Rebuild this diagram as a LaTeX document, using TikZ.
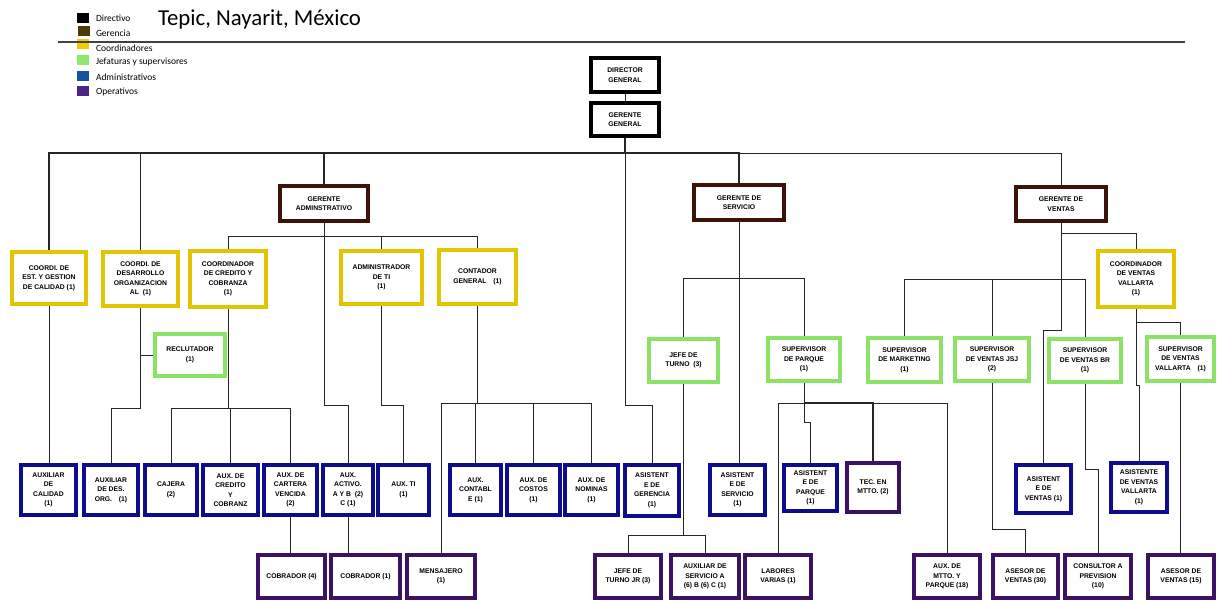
\documentclass[tikz,border=0pt]{standalone}
\usepackage{fontspec}
\setmainfont{Liberation Sans}
\newfontfamily\leyfont{Carlito}
\usetikzlibrary{backgrounds}

\definecolor{cdir}{HTML}{000000}
\definecolor{cger}{HTML}{3D1208}
\definecolor{ccoo}{HTML}{E3C400}
\definecolor{cjef}{HTML}{8CE264}
\definecolor{cadm}{HTML}{0C0C8C}
\definecolor{cope}{HTML}{3B1262}
\definecolor{lger}{HTML}{4F3A0A}
\definecolor{lcoo}{HTML}{F0CC00}
\definecolor{ljef}{HTML}{8DE870}
\definecolor{ladm}{HTML}{1552A3}
\definecolor{lope}{HTML}{4B2585}

\begin{document}
\begin{tikzpicture}[x=1pt, y=-1pt]
\tikzset{ inner sep=0pt, outer sep=0pt,
  caja/.style={fill=white, line width=4pt, align=center, font=\bfseries\fontsize{6.8}{9.5}\selectfont},
  dir/.style={caja, draw=cdir, line width=4.5pt},
  ger/.style={caja, draw=cger},
  coo/.style={caja, draw=ccoo},
  jef/.style={caja, draw=cjef},
  adm/.style={caja, draw=cadm},
  ope/.style={caja, draw=cope},
  ley/.style={anchor=west, font=\leyfont\fontsize{9.5}{11}\selectfont},
  clave/.style={minimum width=12, minimum height=10},
  linea/.style={line width=0.9pt, black!85},
  bus/.style={linea, line width=1.5pt},
}
\useasboundingbox (0,0) rectangle (1217,601);

%\draw [lightgray, dashed] (0,0) grid[step=50] (1217,601);

% leyenda
\node [clave, fill=cdir] (kDir) at (83,18) {};
\node [clave, fill=lger] (kGer) at (84,31.5) {};
\node [clave, fill=lcoo] (kCoo) at (83,44) {};
\node [clave, fill=ljef] (kJef) at (83,60) {};
\node [clave, fill=ladm] (kAdm) at (83,76.5) {};
\node [clave, fill=lope] (kOpe) at (83,91) {};
\node [ley] (tDir) at (96,18) {Directivo};
\node [ley] (tGer) at (96,33) {Gerencia};
\node [ley] (tCoo) at (96,48) {Coordinadores};
\node [ley] (tJef) at (96,62) {Jefaturas y supervisores};
\node [ley] (tAdm) at (96,77) {Administrativos};
\node [ley] (tOpe) at (96,92) {Operativos};

\node [anchor=base west, font=\leyfont\fontsize{22.8}{24}\selectfont] (titulo) at (158,26) {Tepic, Nayarit, México};
\draw [line width=1.2pt, black!75] (58,42) -- (1185,42);

% direccion y gerencias
\node [dir, minimum width=68, minimum height=34] (DG) at (625,75) {DIRECTOR\\GENERAL};
\node [dir, minimum width=68, minimum height=33] (GG) at (625,119.5) {GERENTE\\GENERAL};
\node [ger, minimum width=88, minimum height=35] (GA) at (324,203.5) {GERENTE\\ADMINSTRATIVO};
\node [ger, minimum width=90, minimum height=35] (GS) at (739,202.5) {GERENTE DE\\SERVICIO};
\node [ger, minimum width=90, minimum height=34] (GV) at (1061,204) {GERENTE DE\\VENTAS};

% coordinadores
\node [coo, minimum width=74, minimum height=52] (C1) at (49,278) {COORDI. DE\\EST. Y GESTION\\DE CALIDAD (1)};
\node [coo, minimum width=75, minimum height=54] (C2) at (140.5,279) {COORDI. DE\\DESARROLLO\\ORGANIZACION\\AL\ \ (1)};
\node [coo, minimum width=76, minimum height=56] (C3) at (228,279) {COORDINADOR\\DE CREDITO Y\\COBRANZA\\(1)};
\node [coo, minimum width=81, minimum height=53] (C4) at (381.5,277.5) {ADMINISTRADOR\\DE TI\\(1)};
\node [coo, minimum width=77, minimum height=54] (C5) at (477.5,277) {CONTADOR\\GENERAL\quad(1)};
\node [coo, minimum width=76, minimum height=56] (CV) at (1136,279) {COORDINADOR\\DE VENTAS\\VALLARTA\\(1)};

% jefaturas y supervisores
\node [jef, minimum width=70, minimum height=42] (REC) at (190,355) {RECLUTADOR\\(1)};
\node [jef, minimum width=69, minimum height=43] (JT) at (683.5,360.5) {JEFE DE\\TURNO\ \ (3)};
\node [jef, minimum width=72, minimum height=43] (SP) at (804,359.5) {SUPERVISOR\\DE PARQUE\\(1)};
\node [jef, minimum width=73, minimum height=44] (SM) at (904.5,360) {SUPERVISOR\\DE MARKETING\\(1)};
\node [jef, minimum width=74, minimum height=43] (SJ) at (992,359.5) {SUPERVISOR\\DE VENTAS JSJ\\(2)};
\node [jef, minimum width=72, minimum height=43] (SB) at (1085,360.5) {SUPERVISOR\\DE VENTAS BR\\(1)};
\node [jef, minimum width=67, minimum height=44] (SV) at (1180.5,359) {SUPERVISOR\\DE VENTAS\\VALLARTA\quad(1)};

% administrativos
\node [adm, minimum width=55, minimum height=50] (AC) at (48.5,490) {AUXILIAR\\DE\\CALIDAD\\(1)};
\node [adm, minimum width=54, minimum height=50] (AD) at (111,490) {AUXILIAR\\DE DES.\\ORG.\quad(1)};
\node [adm, minimum width=52, minimum height=50] (CJ) at (171,490) {CAJERA\\(2)};
\node [adm, minimum width=55, minimum height=50] (ACC) at (230.5,490) {AUX. DE\\CREDITO\\Y\\COBRANZ};
\node [adm, minimum width=53, minimum height=50] (ACV) at (290.5,490) {AUX. DE\\CARTERA\\VENCIDA\\(2)};
\node [adm, minimum width=50, minimum height=50] (AAC) at (348,490) {AUX.\\ACTIVO.\\A Y B\ \ (2)\\C (1)};
\node [adm, minimum width=51, minimum height=50] (ATI) at (403.5,490) {AUX. TI\\(1)};
\node [adm, minimum width=51, minimum height=50] (ACO) at (475.5,490) {AUX.\\CONTABL\\E (1)};
\node [adm, minimum width=53, minimum height=50] (ACS) at (533.5,490) {AUX. DE\\COSTOS\\(1)};
\node [adm, minimum width=53, minimum height=50] (ANO) at (591.5,490) {AUX. DE\\NOMINAS\\(1)};
\node [adm, minimum width=54, minimum height=51] (AGE) at (652,490.5) {ASISTENT\\E DE\\GERENCIA\\(1)};
\node [adm, minimum width=55, minimum height=50] (ASE) at (737.5,490) {ASISTENT\\E DE\\SERVICIO\\(1)};
\node [adm, minimum width=53, minimum height=46] (APA) at (810.5,488) {ASISTENT\\E DE\\PARQUE\\(1)};
\node [adm, minimum width=55, minimum height=48] (AVE) at (1043.5,489) {ASISTENT\\E DE\\VENTAS (1)};
\node [adm, minimum width=56, minimum height=49] (AVV) at (1139,487.5) {ASISTENTE\\DE VENTAS\\VALLARTA\\(1)};

% operativos
\node [ope, minimum width=52, minimum height=49] (TEC) at (873,487.5) {TEC. EN\\MTTO. (2)};
\node [ope, minimum width=67, minimum height=43] (CB4) at (291.5,576.5) {COBRADOR (4)};
\node [ope, minimum width=69, minimum height=43] (CB1) at (365.5,576.5) {COBRADOR (1)};
\node [ope, minimum width=68, minimum height=43] (MEN) at (441,576.5) {MENSAJERO\\(1)};
\node [ope, minimum width=66, minimum height=43] (JTJ) at (628,576.5) {JEFE DE\\TURNO JR (3)};
\node [ope, minimum width=68, minimum height=43] (ASV) at (705,576.5) {AUXILIAR DE\\SERVICIO A\\(6) B (6) C (1)};
\node [ope, minimum width=66, minimum height=43] (LAB) at (778,576.5) {LABORES\\VARIAS (1)};
\node [ope, minimum width=66, minimum height=43] (AMP) at (947,576.5) {AUX. DE\\MTTO. Y\\PARQUE (18)};
\node [ope, minimum width=65, minimum height=43] (AV30) at (1025.5,576.5) {ASESOR DE\\VENTAS (30)};
\node [ope, minimum width=66, minimum height=43] (CPR) at (1098,576.5) {CONSULTOR A\\PREVISION\\(10)};
\node [ope, minimum width=66, minimum height=43] (AV15) at (1181,576.5) {ASESOR DE\\VENTAS (15)};

% lineas de mando
\begin{scope}[on background layer]
\draw [linea] (DG) -- (GG);
\coordinate (B0) at (GG.south |- 0,153);
\draw [bus] (GG.south) -- (B0);
\draw [bus] (B0) -| (C1.north);
\draw [bus] (B0) -| (C2.north);
\draw [bus] (B0) -| (GA.north);
\draw [bus] (B0) -| (GS.north);
\draw [linea] (B0) -| (GV.north);
\draw [linea] (B0) -- (B0 |- 0,405) -| (AGE.north);

\draw [linea] (GA.south) -- (GA.south |- 0,236) -| (C3.north);
\draw [linea] (GA.south |- 0,236) -| (C4.north);
\draw [linea] (GA.south |- 0,236) -| (C5.north);
\draw [linea] (GA.south) -- (GA.south |- 0,405) -| (AAC.north);

\draw [linea] (C1.south) -- (C1.south |- AC.north);
\draw [linea] (C2.south) -- (C2.south |- 0,408) -| (AD.north);
\draw [linea] (C2.south |- REC.west) -- (REC.west);
\draw [linea] (C3.south) -- (C3.south |- 0,408) -| (CJ.north);
\draw [linea] (C3.south |- 0,408) -| (ACC.north);
\draw [linea] (C3.south |- 0,408) -| (ACV.north);
\draw [linea] (C4.south) -- (C4.south |- 0,405) -| (ATI.north);
\draw [linea] (C5.south) -- (C5.south |- 0,403) -| (MEN.north);
\draw [linea] (C5.south |- 0,403) -| (ACO.north);
\draw [linea] (C5.south |- 0,403) -| (ACS.north);
\draw [linea] (C5.south |- 0,403) -| (ANO.north);
\draw [linea] (ACV.south) -- (ACV.south |- CB4.north);
\draw [linea] (AAC.south) -- (AAC.south |- CB1.north);

\draw [linea] (GS.south) -- (GS.south |- ASE.north);
\draw [linea] (GS.south |- 0,278) -| (JT.north);
\draw [linea] (GS.south |- 0,278) -| (SP.north);
\draw [linea] (JT.south) -- (JT.south |- 0,535) -| (JTJ.north);
\draw [linea] (JT.south |- 0,535) -| (ASV.north);
\draw [linea] (SP.south) -- (SP.south |- 0,403) -| (LAB.north);
\draw [bus] (SP.south |- 0,403) -| (TEC.north);
\draw [linea] (SP.south |- 0,403) -| (AMP.north);
\draw [linea] (SP.south) -- (SP.south |- 0,422) -| (APA.north);

\draw [linea] (GV.south) -- (GV.south |- 0,330) -| (AVE.north);
\draw [linea] (GV.south |- 0,233) -| (CV.north);
\draw [linea] (GV.south |- 0,279) -| (SM.north);
\draw [linea] (GV.south |- 0,279) -| (SJ.north);
\draw [linea] (GV.south |- 0,279) -| (SB.north);
\draw [linea] (SJ.south) -- (SJ.south |- 0,529) -| (AV30.north);
\draw [linea] (SB.south) -- (SB.south |- 0,469) -| (CPR.north);
\draw [linea] (CV.south) -- (CV.south |- 0,322) -| (SV.north);
\draw [linea] (CV.south) -- (CV.south |- 0,385) -| (AVV.north);
\draw [linea] (SV.south) -- (SV.south |- AV15.north);
\end{scope}
\end{tikzpicture}
\end{document}
